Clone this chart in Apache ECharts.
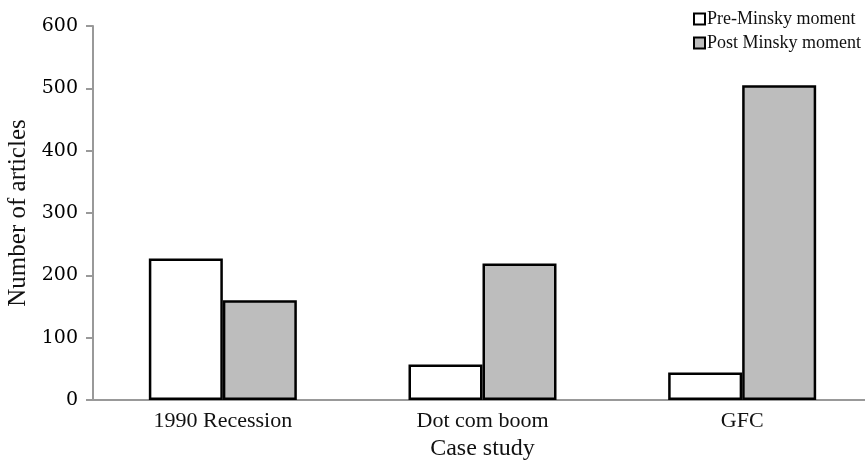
<!DOCTYPE html>
<html>
<head>
<meta charset="utf-8">
<script src="https://cdn.jsdelivr.net/npm/echarts@6/dist/echarts.min.js"></script>
<style>
  html, body { margin: 0; padding: 0; background: #fff; }
  #chart { width: 865px; height: 465px; }
</style>
</head>
<body>
<div id="chart"></div>
<script>
// data
var categories = ["1990 Recession", "Dot com boom", "GFC"];
var preMinsky = [227, 57, 44];
var postMinsky = [160, 219, 505];
var seriesNames = ["Pre-Minsky moment", "Post Minsky moment"];

var myChart = echarts.init(document.getElementById("chart"));
var serif = "Liberation Serif";

var option = {
  animation: false,
  backgroundColor: "#fff",
  grid: {
    left: 93,
    right: -7,
    top: 26,
    bottom: 65,
    outerBoundsMode: "none",
  },
  legend: {
    orient: "vertical",
    left: 688,
    top: 5,
    itemWidth: 11,
    itemHeight: 11,
    itemGap: 6,
    icon: "rect",
    textStyle: {
      fontFamily: serif,
      fontSize: 18,
      color: "#111",
      padding: [0, 0, 0, -3],
    },
    data: seriesNames,
  },
  xAxis: {
    type: "category",
    data: categories,
    name: "Case study",
    nameLocation: "middle",
    nameGap: 32,
    nameTextStyle: { fontFamily: serif, fontSize: 24, color: "#111" },
    axisLine: { lineStyle: { color: "#999", width: 2 } },
    axisTick: { show: false },
    axisLabel: {
      fontFamily: serif,
      fontSize: 22,
      color: "#111",
      margin: 10,
    },
  },
  yAxis: {
    type: "value",
    min: 0,
    max: 600,
    interval: 100,
    name: "Number of articles",
    nameLocation: "middle",
    nameGap: 58,
    nameTextStyle: { fontFamily: serif, fontSize: 25, color: "#111" },
    axisLine: { show: true, lineStyle: { color: "#999", width: 2 } },
    axisTick: { show: true, length: 7, lineStyle: { color: "#999", width: 2 } },
    splitLine: { show: false },
    axisLabel: {
      fontFamily: "DejaVu Serif",
      fontSize: 19,
      color: "#000",
      margin: 15,
    },
  },
  series: [
    {
      name: seriesNames[0],
      type: "bar",
      data: preMinsky,
      barWidth: 74,
      barGap: "0%",
      itemStyle: { color: "#ffffff", borderColor: "#000", borderWidth: 2.5 },
    },
    {
      name: seriesNames[1],
      type: "bar",
      data: postMinsky,
      barWidth: 74,
      barGap: "0%",
      itemStyle: { color: "#bdbdbd", borderColor: "#000", borderWidth: 2.5 },
    },
  ],
};

myChart.setOption(option);
</script>
</body>
</html>
